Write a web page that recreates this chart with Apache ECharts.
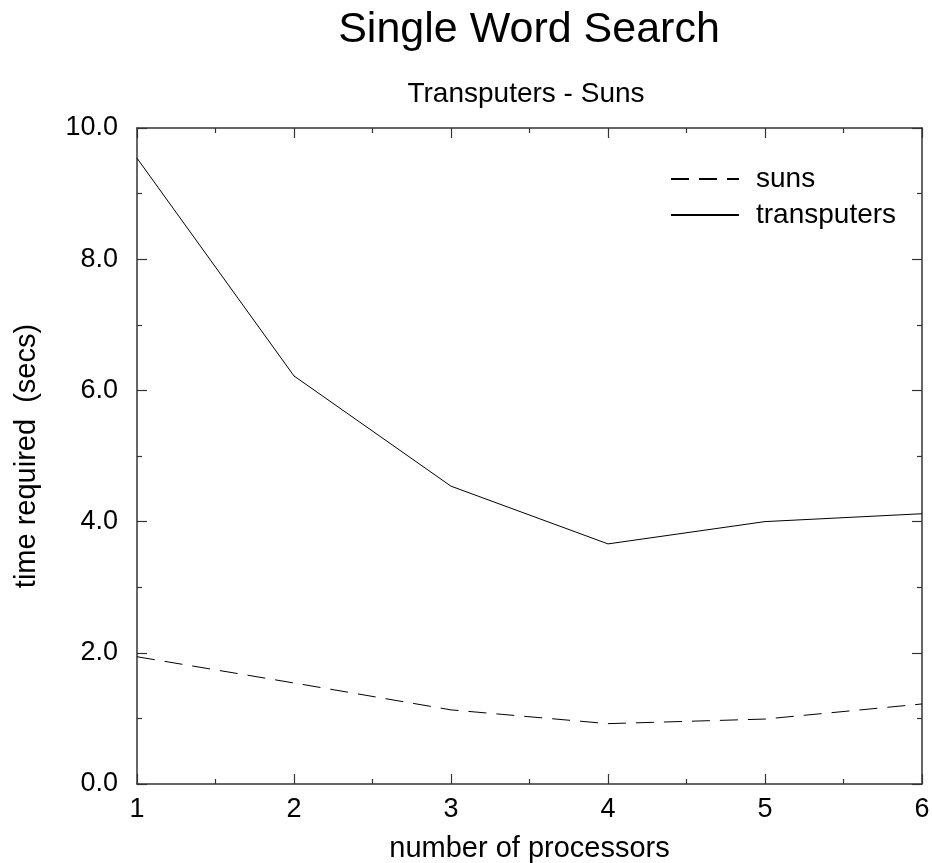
<!DOCTYPE html>
<html>
<head>
<meta charset="utf-8">
<script src="https://cdn.jsdelivr.net/npm/echarts@6/dist/echarts.min.js"></script>
<style>
html,body{margin:0;padding:0;background:#fff;}
#chart{width:932px;height:863px;}
</style>
</head>
<body>
<div id="chart"></div>
<script>
const processors = [1, 2, 3, 4, 5, 6];
const sunsTimes = [1.94, 1.54, 1.13, 0.92, 0.99, 1.22];
const transputerTimes = [9.54, 6.22, 4.54, 3.66, 4.00, 4.12];
const seriesNames = ['suns', 'transputers'];
const titleText = 'Single Word Search';
const subtitleText = 'Transputers - Suns';
const xAxisName = 'number of processors';
const yAxisName = 'time required  (secs)';

const FONT = '"Liberation Sans", Arial, Helvetica, sans-serif';
const AXIS_COLOR = '#333';

const pairs = (ys) => processors.map((x, i) => [x, ys[i]]);

const chart = echarts.init(document.getElementById('chart'), null, {renderer: 'canvas'});

const baseX = {
  type: 'value', min: 1, max: 6, interval: 1,
  axisLine: {show: true, onZero: false, lineStyle: {color: AXIS_COLOR, width: 1.5}},
  axisTick: {show: true, inside: true, length: 10, lineStyle: {color: AXIS_COLOR, width: 1.2}},
  minorTick: {show: true, splitNumber: 2, length: 5, lineStyle: {color: AXIS_COLOR, width: 1.2}},
  splitLine: {show: false}
};
const baseY = {
  type: 'value', min: 0, max: 10, interval: 2,
  axisLine: {show: true, onZero: false, lineStyle: {color: AXIS_COLOR, width: 1.5}},
  axisTick: {show: true, inside: true, length: 10, lineStyle: {color: AXIS_COLOR, width: 1.2}},
  minorTick: {show: true, splitNumber: 2, length: 5, lineStyle: {color: AXIS_COLOR, width: 1.2}},
  splitLine: {show: false}
};

const option = {
  animation: false,
  backgroundColor: '#fff',
  textStyle: {fontFamily: FONT, color: '#000'},
  title: [
    {text: titleText, left: 529, top: 9, padding: 0, textAlign: 'center',
     textStyle: {fontFamily: FONT, fontSize: 43, fontWeight: 'normal', color: '#000'}},
    {text: subtitleText, left: 526, top: 80, padding: 0, textAlign: 'center',
     textStyle: {fontFamily: FONT, fontSize: 28, fontWeight: 'normal', color: '#000'}}
  ],
  legend: {
    orient: 'vertical', left: 670, top: 165, padding: 0,
    itemWidth: 68, itemHeight: 14, itemGap: 8,
    data: seriesNames,
    itemStyle: {opacity: 0},
    textStyle: {fontFamily: FONT, fontSize: 28, color: '#000', padding: [0, 0, 0, 12]}
  },
  grid: {left: 137, right: 10, top: 128, bottom: 79, containLabel: false, outerBoundsMode: 'none'},
  xAxis: [
    Object.assign({}, baseX, {
      position: 'bottom',
      name: xAxisName, nameLocation: 'middle', nameGap: 50,
      nameTextStyle: {fontFamily: FONT, fontSize: 29, color: '#000'},
      axisLabel: {show: true, margin: 12, fontFamily: FONT, fontSize: 27, color: '#000'}
    }),
    Object.assign({}, baseX, {position: 'top', axisLabel: {show: false}})
  ],
  yAxis: [
    Object.assign({}, baseY, {
      position: 'left',
      name: yAxisName, nameLocation: 'middle', nameGap: 96,
      nameTextStyle: {fontFamily: FONT, fontSize: 29, color: '#000'},
      axisLabel: {show: true, margin: 19, fontFamily: FONT, fontSize: 27, color: '#000',
                  formatter: (v) => v.toFixed(1)}
    }),
    Object.assign({}, baseY, {position: 'right', axisLabel: {show: false}})
  ],
  series: [
    {name: seriesNames[0], type: 'line', data: pairs(sunsTimes), symbol: 'none',
     xAxisIndex: 0, yAxisIndex: 0,
     lineStyle: {color: '#000', width: 1, type: [18, 10]}, itemStyle: {color: '#000'}},
    {name: seriesNames[1], type: 'line', data: pairs(transputerTimes), symbol: 'none',
     xAxisIndex: 0, yAxisIndex: 0,
     lineStyle: {color: '#000', width: 1, type: 'solid'}, itemStyle: {color: '#000'}}
  ]
};
chart.setOption(option);
</script>
</body>
</html>
